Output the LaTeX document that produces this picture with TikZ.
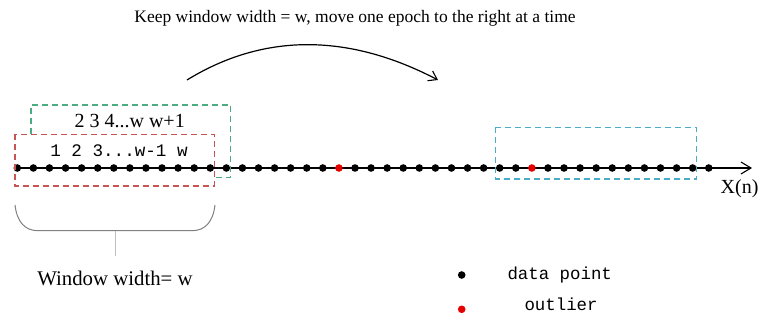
\documentclass[tikz,border=0pt]{standalone}
\usepackage{fontspec}
\setmainfont{Liberation Serif}
\newfontfamily\monof{Liberation Mono}
\usetikzlibrary{arrows.meta}
\definecolor{winred}{RGB}{200,84,84}
\definecolor{wingreen}{RGB}{78,170,128}
\definecolor{wincyan}{RGB}{75,172,198}
\tikzset{
  dot/.style={circle,fill=black,inner sep=0pt,minimum size=7.6pt},
  reddot/.style={circle,fill=red!90!black,inner sep=0pt,minimum size=7.6pt},
  winbox/.style={dashed,dash pattern=on 6pt off 4pt,line width=1.2pt},
  lbl/.style={inner sep=0pt},
}
\begin{document}
\begin{tikzpicture}[x=1pt,y=-1pt]
\useasboundingbox (0,0) rectangle (759,320);
% axis
\coordinate (ax0) at (15,168);
\coordinate (ax1) at (752,168);
\draw[line width=1.5pt,-{Straight Barb[length=10pt,width=12pt,line width=1.1pt]}] (ax0) -- (ax1);
% data points
\foreach \i in {0,...,43}{
  \pgfmathsetmacro{\xx}{17.3+16.08*\i}
  \ifnum\i=20 \node[reddot] (d\i) at (\xx,168) {};
  \else\ifnum\i=32 \node[reddot] (d\i) at (\xx,168) {};
  \else \node[dot] (d\i) at (\xx,168) {};
  \fi\fi
}
% windows
\draw[winbox,wingreen] (31,133.8) -- (31,105) -- (230.7,105) -- (230.7,177.3) -- (214.3,177.3);
\draw[winbox,winred] (15,134.3) rectangle (214.3,186);
\draw[winbox,wincyan] (495.7,127.3) rectangle (696.7,179);
% window labels
\node[lbl,font=\fontsize{20}{22}\selectfont] (lab2) at (129.7,121.5) {2 3 4...w w+1};
\node[lbl,font=\monof\fontsize{17.6}{20}\selectfont] (lab1) at (119,150.5) {1 2 3...w-1 w};
% moving arrow
\coordinate (mv0) at (187,80);
\coordinate (mv1) at (438,80);
\draw[line width=1.2pt,-{Straight Barb[length=8pt,width=11pt,line width=1.1pt]}] (mv0) .. controls (265,32) and (350,34) .. (mv1);
\node[lbl,font=\fontsize{17.5}{20}\selectfont] (title) at (355,18) {Keep window width = w, move one epoch to the right at a time};
% brace
\draw[line width=1pt,black!50] (15,205) .. controls (17,222) and (25,230.7) .. (38,230.7) -- (192,230.7) .. controls (205,230.7) and (213,222) .. (215,205);
\coordinate (st0) at (115,230.7);
\coordinate (st1) at (115,256);
\draw[line width=0.9pt,black!25] (st0) -- (st1);
\node[lbl,font=\fontsize{20.8}{23}\selectfont] (ww) at (115,278) {Window width= w};
% axis label
\node[lbl,anchor=west,font=\fontsize{20}{22}\selectfont] (xn) at (720.5,189) {X(n)};
% legend
\node[dot,minimum size=7.6pt] (ldot) at (461.7,275) {};
\node[reddot,minimum size=7.6pt] (lred) at (461.7,309.3) {};
\node[lbl,anchor=west,font=\monof\fontsize{17.4}{20}\selectfont] (ltxt1) at (507.3,275.5) {data point};
\node[lbl,anchor=west,font=\monof\fontsize{17.4}{20}\selectfont] (ltxt2) at (524.3,304.5) {outlier};
\end{tikzpicture}
\end{document}
